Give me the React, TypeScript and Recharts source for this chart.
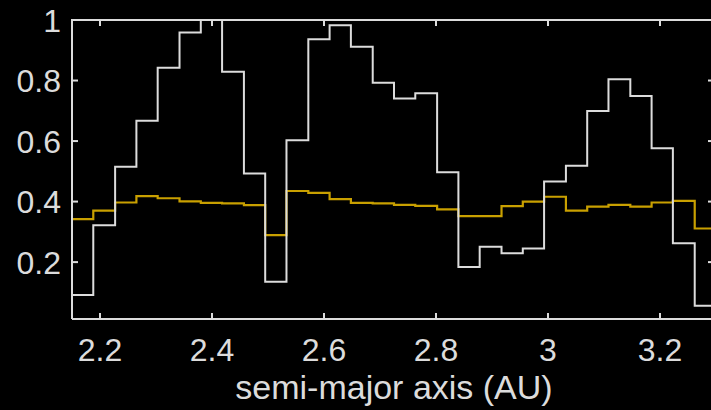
import React from 'react';
import { LineChart, Line, XAxis, YAxis, ReferenceLine } from 'recharts';

// bin edges in AU (30 bins, last edge closes the final step)
const binEdges = [
  2.15, 2.188, 2.227, 2.265, 2.303, 2.342, 2.38, 2.418, 2.457, 2.495,
  2.533, 2.572, 2.61, 2.648, 2.687, 2.725, 2.763, 2.802, 2.84, 2.878,
  2.917, 2.955, 2.993, 3.032, 3.07, 3.108, 3.147, 3.185, 3.223, 3.262, 3.3,
];

const whiteVals = [
  0.091, 0.322, 0.515, 0.667, 0.842, 0.959, 1.05, 0.829, 0.493, 0.135,
  0.603, 0.936, 0.983, 0.912, 0.793, 0.741, 0.758, 0.497, 0.184, 0.251,
  0.229, 0.245, 0.466, 0.518, 0.699, 0.804, 0.749, 0.576, 0.262, 0.056,
];

const goldVals = [
  0.342, 0.37, 0.397, 0.418, 0.411, 0.401, 0.396, 0.394, 0.388, 0.289,
  0.435, 0.429, 0.408, 0.396, 0.394, 0.389, 0.386, 0.374, 0.352, 0.352,
  0.385, 0.4, 0.416, 0.37, 0.383, 0.389, 0.383, 0.397, 0.402, 0.311,
];

const xTicks = [2.2, 2.4, 2.6, 2.8, 3, 3.2];
const yTicks = [0.2, 0.4, 0.6, 0.8, 1];

const X_DOMAIN = [2.15, 3.3];
const Y_DOMAIN = [0.012, 1];

const last = whiteVals.length - 1;
const data = binEdges.map((a, i) => ({
  a,
  white: whiteVals[Math.min(i, last)],
  gold: goldVals[Math.min(i, last)],
}));

const FG = '#dcdcdc';
const FONT = '"Liberation Sans", Arial, sans-serif';
const fmt = (v: number) => String(Number(v.toFixed(1)));

const BottomTick = ({ x, y, payload }: any) => (
  <g>
    <line x1={x} x2={x} y1={y} y2={y - 6} stroke={FG} strokeWidth={2} />
    <text x={x} y={y + 42} textAnchor="middle" fill={FG} fontSize={32} fontFamily={FONT}>
      {fmt(payload.value)}
    </text>
  </g>
);

const TopTick = ({ x, y }: any) => (
  <line x1={x} x2={x} y1={y} y2={y + 6} stroke={FG} strokeWidth={2} />
);

const LeftTick = ({ x, y, payload }: any) => (
  <g>
    <line x1={x} x2={x + 6} y1={y} y2={y} stroke={FG} strokeWidth={2} />
    <text x={x - 11} y={y + 11.5} textAnchor="end" fill={FG} fontSize={32} fontFamily={FONT}>
      {fmt(payload.value)}
    </text>
  </g>
);

const RightTick = ({ x, y }: any) => (
  <line x1={x} x2={x - 8} y1={y} y2={y} stroke={FG} strokeWidth={2} />
);

export default function App() {
  return (
    <div style={{ position: 'fixed', left: 0, top: 0, width: 711, height: 410, overflow: 'hidden', background: '#000' }}>
      <LineChart width={736} height={410} data={data} margin={{ top: 0, right: 0, left: 0, bottom: 0 }}>
        <XAxis
          xAxisId="b"
          dataKey="a"
          type="number"
          domain={X_DOMAIN}
          ticks={xTicks}
          height={91}
          tickSize={0}
          tickMargin={0}
          tickLine={false}
          axisLine={{ stroke: FG, strokeWidth: 2 }}
          tick={<BottomTick />}
          label={{ value: 'semi-major axis (AU)', position: 'insideBottom', offset: 11, fill: FG, fontSize: 34, fontFamily: FONT }}
        />
        <XAxis
          xAxisId="t"
          orientation="top"
          dataKey="a"
          type="number"
          domain={X_DOMAIN}
          ticks={xTicks}
          height={20}
          tickSize={0}
          tickMargin={0}
          tickLine={false}
          axisLine={{ stroke: FG, strokeWidth: 2 }}
          tick={<TopTick />}
        />
        <YAxis
          yAxisId="l"
          type="number"
          domain={Y_DOMAIN}
          allowDataOverflow
          ticks={yTicks}
          width={72}
          tickSize={0}
          tickMargin={0}
          tickLine={false}
          axisLine={{ stroke: FG, strokeWidth: 2 }}
          tick={<LeftTick />}
        />
        <YAxis
          yAxisId="r"
          orientation="right"
          type="number"
          domain={Y_DOMAIN}
          allowDataOverflow
          ticks={yTicks}
          width={20}
          tickSize={0}
          tickMargin={0}
          tickLine={false}
          axisLine={{ stroke: FG, strokeWidth: 2 }}
          tick={<RightTick />}
        />
        {/* top and right frame edges */}
        <ReferenceLine xAxisId="b" yAxisId="l" y={Y_DOMAIN[1]} stroke={FG} strokeWidth={2} />
        <ReferenceLine xAxisId="b" yAxisId="l" x={X_DOMAIN[1]} stroke={FG} strokeWidth={2} />
        <Line
          xAxisId="t"
          yAxisId="r"
          type="stepAfter"
          dataKey="gold"
          stroke="none"
          dot={false}
          activeDot={false}
          isAnimationActive={false}
        />
        <Line
          xAxisId="b"
          yAxisId="l"
          type="stepAfter"
          dataKey="gold"
          stroke="#c9a000"
          strokeWidth={2.2}
          dot={false}
          activeDot={false}
          isAnimationActive={false}
        />
        <Line
          xAxisId="b"
          yAxisId="l"
          type="stepAfter"
          dataKey="white"
          stroke={FG}
          strokeWidth={2}
          dot={false}
          activeDot={false}
          isAnimationActive={false}
        />
      </LineChart>
      {/* top edge of the box, kept as a plain overlay */}
      <div style={{ position: 'absolute', left: 71, top: 19, width: 645, height: 2, background: FG }} />
    </div>
  );
}
